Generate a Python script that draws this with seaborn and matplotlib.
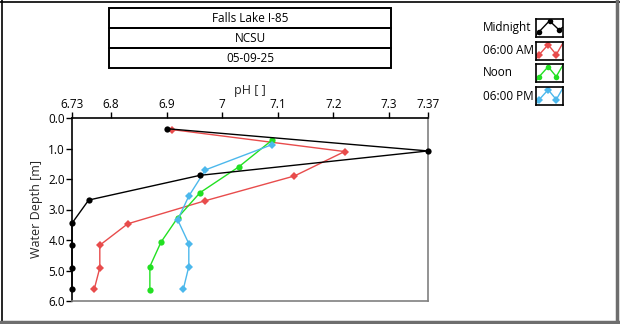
import matplotlib
matplotlib.use("Agg")
import matplotlib.pyplot as plt
import seaborn as sns
import pandas as pd
from matplotlib.lines import Line2D
from matplotlib.patches import Rectangle

sns.set_theme(style="white")
plt.rcParams['font.family'] = ['Open Sans', 'DejaVu Sans']

# ---- data ----
series_names = ["Midnight", "06:00 AM", "Noon", "06:00 PM"]
midnight_ph = [6.90, 7.37, 6.96, 6.76, 6.73, 6.73, 6.73, 6.73]
midnight_depth = [0.35, 1.08, 1.88, 2.69, 3.45, 4.15, 4.93, 5.62]
am_ph = [6.91, 7.22, 7.13, 6.97, 6.83, 6.78, 6.78, 6.77]
am_depth = [0.38, 1.10, 1.90, 2.71, 3.47, 4.17, 4.91, 5.61]
noon_ph = [7.09, 7.03, 6.96, 6.92, 6.89, 6.87, 6.87]
noon_depth = [0.72, 1.60, 2.45, 3.27, 4.07, 4.87, 5.64]
pm_ph = [7.09, 6.97, 6.94, 6.92, 6.94, 6.94, 6.93]
pm_depth = [0.87, 1.70, 2.56, 3.34, 4.12, 4.87, 5.62]

x_ticks = [6.73, 6.8, 6.9, 7.0, 7.1, 7.2, 7.3, 7.37]
x_tick_labels = ["6.73", "6.8", "6.9", "7", "7.1", "7.2", "7.3", "7.37"]
y_ticks = [0, 1, 2, 3, 4, 5, 6]
y_tick_labels = ["0.0", "1.0", "2.0", "3.0", "4.0", "5.0", "6.0"]
title_rows = ["Falls Lake I-85", "NCSU", "05-09-25"]

colors = {"Midnight": "#000000", "06:00 AM": "#e84c4c",
          "Noon": "#22e022", "06:00 PM": "#4cb8ec"}
markers = {"Midnight": "o", "06:00 AM": "D", "Noon": "o", "06:00 PM": "D"}

frames = []
for name, ph, d in [("Midnight", midnight_ph, midnight_depth),
                    ("06:00 AM", am_ph, am_depth),
                    ("Noon", noon_ph, noon_depth),
                    ("06:00 PM", pm_ph, pm_depth)]:
    frames.append(pd.DataFrame({"pH": ph, "depth": d, "series": name}))
df = pd.concat(frames, ignore_index=True)

W, H = 620, 324
fig = plt.figure(figsize=(W / 100, H / 100), dpi=100)
fig.patch.set_facecolor("white")

ax = fig.add_axes([72 / W, 1 - 301 / H, (428 - 72) / W, (301 - 118) / H])
for name in series_names:
    sub = df[df.series == name]
    sns.lineplot(data=sub, x="pH", y="depth", sort=False, estimator=None,
                 color=colors[name], marker=markers[name], markersize=4.5,
                 markeredgewidth=0, linewidth=1.0, ax=ax, legend=False,
                 clip_on=False, zorder=3 if name == "Midnight" else 2)

ax.set_xlim(6.73, 7.37)
ax.set_ylim(6.0, 0.0)
ax.xaxis.tick_top()
ax.xaxis.set_label_position("top")
ax.set_xticks(x_ticks)
ax.set_xticklabels(x_tick_labels)
ax.set_yticks(y_ticks)
ax.set_yticklabels(y_tick_labels)
ax.tick_params(axis="both", direction="out", length=4, width=1, colors="#000000",
               labelsize=8.5, pad=1)
ax.tick_params(axis="x", top=True, bottom=False)
ax.tick_params(axis="y", left=True)
ax.set_xlabel("pH [ ]", fontsize=9, labelpad=3)
ax.set_ylabel("Water Depth [m]", fontsize=9, labelpad=4)
for side in ["top", "left"]:
    ax.spines[side].set_color("#000000")
    ax.spines[side].set_linewidth(1.2)
for side in ["right", "bottom"]:
    ax.spines[side].set_color("#808080")
    ax.spines[side].set_linewidth(1.2)
    ax.spines[side].set_visible(True)
ax.set_facecolor("white")
ax.grid(False)

# ---- title box ----
bx0, bx1 = 109, 391
row_edges = [8, 28, 48, 68]
for i, txt in enumerate(title_rows):
    y0, y1 = row_edges[i], row_edges[i + 1]
    fig.add_artist(Rectangle((bx0 / W, 1 - y1 / H), (bx1 - bx0) / W, (y1 - y0) / H,
                             transform=fig.transFigure, fill=False,
                             edgecolor="#000000", linewidth=1.4))
    fig.text((bx0 + bx1) / 2 / W, 1 - (y0 + y1) / 2 / H, txt, ha="center",
             va="center", fontsize=8.5, color="#000000")

# ---- legend ----
leg_rows = [28, 51, 73, 96]
for name, yc in zip(series_names, leg_rows):
    fig.text(483 / W, 1 - yc / H, name, ha="left", va="center", fontsize=8.5,
             color="#000000")
    iax = fig.add_axes([536 / W, 1 - (yc + 9) / H, 27 / W, 18 / H])
    if name == "Midnight":
        px, py = [0.0, 0.12, 0.5, 0.85, 1.0], [0.1, 0.3, 0.9, 0.4, 0.55]
        mk = [1, 2, 3]
    else:
        px, py = [0.0, 0.12, 0.45, 0.75, 1.0], [0.05, 0.3, 0.85, 0.3, 0.95]
        mk = [1, 2, 3]
    iax.plot(px, py, color=colors[name], linewidth=1.0)
    iax.plot([px[k] for k in mk], [py[k] for k in mk], linestyle="none",
             marker=markers[name], markersize=4, markeredgewidth=0,
             color=colors[name])
    iax.set_xlim(0, 1)
    iax.set_ylim(0, 1)
    iax.set_xticks([])
    iax.set_yticks([])
    for s in iax.spines.values():
        s.set_color("#000000")
        s.set_linewidth(1.2)
    iax.set_facecolor("white")

# ---- outer frame ----
fig.add_artist(Line2D([1.5 / W, 1.5 / W], [0, 1], color="#000000", linewidth=1.2,
                      transform=fig.transFigure))
fig.add_artist(Line2D([0, 1], [1 - 1.5 / H, 1 - 1.5 / H], color="#000000",
                      linewidth=1.2, transform=fig.transFigure))
fig.add_artist(Line2D([617 / W, 617 / W], [0, 1], color="#6e6e6e", linewidth=2.5,
                      transform=fig.transFigure))
fig.add_artist(Line2D([0, 1], [1 - 322 / H, 1 - 322 / H], color="#6e6e6e",
                      linewidth=2.5, transform=fig.transFigure))

fig.savefig("out.png", dpi=100, facecolor="white")
